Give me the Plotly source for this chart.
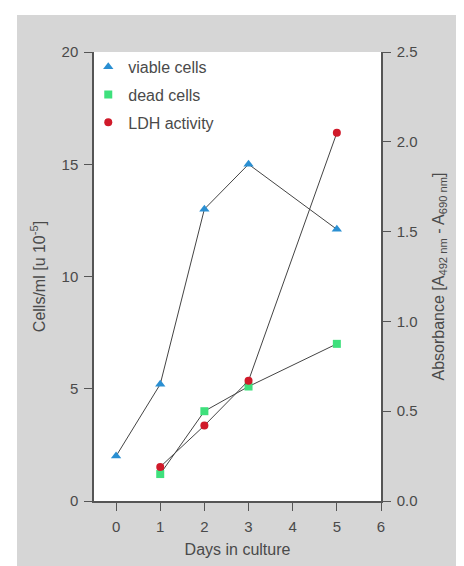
import plotly.graph_objects as go

days_viable = [0, 1, 2, 3, 5]
viable_cells = [2.0, 5.2, 13.0, 15.0, 12.1]
days_dead = [1, 2, 3, 5]
dead_cells = [1.2, 4.0, 5.1, 7.0]
days_ldh = [1, 2, 3, 5]
ldh_activity = [0.19, 0.42, 0.67, 2.05]

x_ticks = [0, 1, 2, 3, 4, 5, 6]
y_ticks = [0, 5, 10, 15, 20]
y2_ticks = [0.0, 0.5, 1.0, 1.5, 2.0, 2.5]

line_col = "#444444"
txt_col = "#4a4a4a"
font_fam = "Liberation Sans, Arial, sans-serif"

fig = go.Figure()

# connecting lines (no legend)
fig.add_trace(go.Scatter(x=days_viable, y=viable_cells, mode="lines",
                         line=dict(color=line_col, width=1), showlegend=False, hoverinfo="skip"))
fig.add_trace(go.Scatter(x=days_dead, y=dead_cells, mode="lines",
                         line=dict(color=line_col, width=1), showlegend=False, hoverinfo="skip"))
fig.add_trace(go.Scatter(x=days_ldh, y=ldh_activity, mode="lines", yaxis="y2",
                         line=dict(color=line_col, width=1), showlegend=False, hoverinfo="skip"))

# markers
fig.add_trace(go.Scatter(x=days_viable, y=viable_cells, mode="markers", name="viable cells",
                         legendgroup="a",
                         marker=dict(symbol="triangle-up", size=9, color="#2a8fd2")))
fig.add_trace(go.Scatter(x=days_dead, y=dead_cells, mode="markers", name="dead cells",
                         legendgroup="b",
                         marker=dict(symbol="square", size=8, color="#3ee07c")))
fig.add_trace(go.Scatter(x=days_ldh, y=ldh_activity, mode="markers", name="LDH activity",
                         legendgroup="c", yaxis="y2",
                         marker=dict(symbol="circle", size=8, color="#d01a2a")))

axis_common = dict(showline=True, linecolor="#555555", linewidth=1.5,
                   ticks="outside", tickcolor="#555555", ticklen=8, tickwidth=1,
                   showgrid=False, zeroline=False, ticklabelstandoff=3,
                   tickfont=dict(size=15, color=txt_col, family=font_fam))

title_font = dict(size=16, color=txt_col, family=font_fam)

fig.update_layout(
    width=464, height=566,
    margin=dict(l=86, r=91, t=44, b=73),
    paper_bgcolor="white",
    plot_bgcolor="white",
    font=dict(family=font_fam, color=txt_col, size=15),
    xaxis=dict(range=[-0.5, 6], tickvals=x_ticks, **axis_common,
               title=dict(text="Days in culture", font=title_font, standoff=10)),
    yaxis=dict(range=[0, 20], tickvals=y_ticks, **axis_common,
               title=dict(text="Cells/ml [u 10<sup>-5</sup>]", font=title_font, standoff=12)),
    yaxis2=dict(range=[0, 2.5], tickvals=y2_ticks, tickformat=".1f", overlaying="y", side="right",
                **axis_common,
                title=dict(text="Absorbance [A<sub>492 nm</sub> - A<sub>690 nm</sub>]",
                           font=title_font, standoff=16)),
    legend=dict(x=-0.02, y=1.005, xanchor="left", yanchor="top",
                bgcolor="rgba(0,0,0,0)", traceorder="grouped", tracegroupgap=4,
                font=dict(size=16, color=txt_col, family=font_fam)),
    shapes=[
        dict(type="rect", xref="paper", yref="paper", layer="below",
             x0=-77 / 287, x1=378 / 287, y0=-73 / 449, y1=1 + 37 / 449,
             fillcolor="#d6d6d6", line=dict(width=0)),
        dict(type="rect", xref="paper", yref="paper", layer="below",
             x0=0, x1=1, y0=0, y1=1, fillcolor="white", line=dict(width=0)),
    ],
)

fig.write_html("out.html")
